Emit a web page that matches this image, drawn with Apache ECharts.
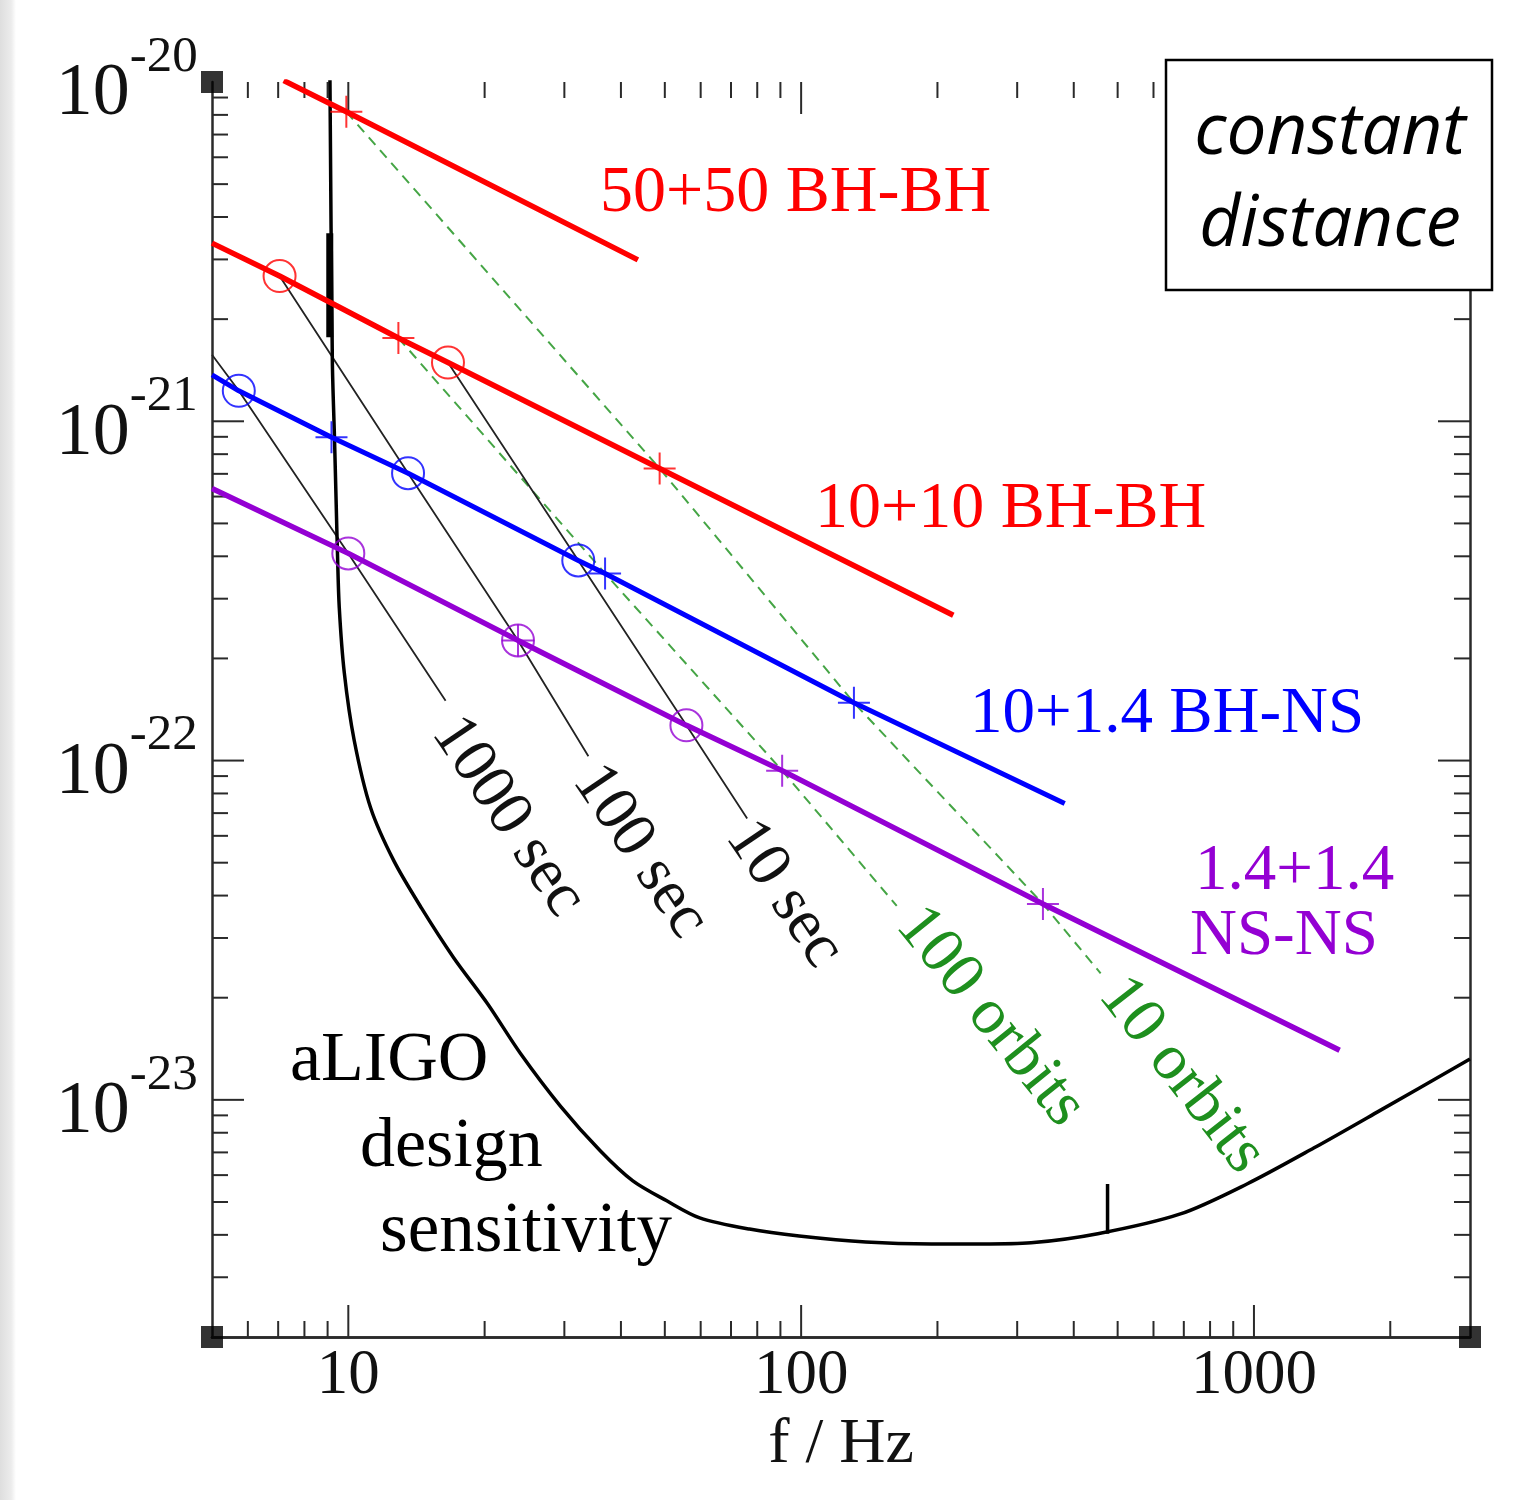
<!DOCTYPE html>
<html><head><meta charset="utf-8">
<script src="https://cdn.jsdelivr.net/npm/echarts@6.0.0/dist/echarts.min.js"></script>
<style>
html,body{margin:0;padding:0;width:1523px;height:1500px;overflow:hidden;background:#fff;}
#strip{position:absolute;left:0;top:0;width:16px;height:1500px;background:linear-gradient(to right,#dedede,#ececec 70%,#fff);}
#chart{position:absolute;left:0;top:0;width:1523px;height:1500px;}
</style></head><body><div id="strip"></div><div id="chart"></div>
<script>
// ---------- axis ranges & ticks ----------
const X_MIN = 5, X_MAX = 3000, Y_MIN = 2e-24, Y_MAX = 1e-20;
const xMajorTicks = [10,100,1000];
const yMajorTicks = [1e-23,1e-22,1e-21];
const xMinorTicks = [6,7,8,9,20,30,40,50,60,70,80,90,200,300,400,500,600,700,800,900,2000];
const yMinorTicks = [3e-24,4e-24,5e-24,6e-24,7e-24,8e-24,9e-24,
  2e-23,3e-23,4e-23,5e-23,6e-23,7e-23,8e-23,9e-23,
  2e-22,3e-22,4e-22,5e-22,6e-22,7e-22,8e-22,9e-22,
  2e-21,3e-21,4e-21,5e-21,6e-21,7e-21,8e-21,9e-21];
const frameCorners = [[5,1e-20],[5,2e-24],[3000,2e-24]];

// ---------- binary tracks (f [Hz], strain) ----------
const bbh50 = [[7.2,1.01e-20],[9.9,8.17e-21],[43.6,2.99e-21]];
const bbh10 = [[5,3.35e-21],[7.05,2.68e-21],[12.9,1.76e-21],[16.6,1.49e-21],[48.7,7.26e-22],[216.8,2.68e-22]];
const bhns  = [[5,1.37e-21],[5.73,1.23e-21],[9.18,8.97e-22],[13.55,7.03e-22],[32.2,3.89e-22],[36.9,3.56e-22],[130.8,1.48e-22],[382,7.47e-23]];
const nsns  = [[5,6.34e-22],[10,4.08e-22],[23.7,2.26e-22],[55.8,1.27e-22],[90.8,9.34e-23],[342,3.78e-23],[1546,1.40e-23]];

// ---------- markers ----------
const redCircles    = [[7.05,2.68e-21],[16.6,1.49e-21]];
const redPluses     = [[9.9,8.17e-21],[12.9,1.76e-21],[48.7,7.26e-22]];
const blueCircles   = [[5.73,1.23e-21],[13.55,7.03e-22],[32.2,3.89e-22]];
const bluePluses    = [[9.18,8.97e-22],[36.9,3.56e-22],[130.8,1.48e-22]];
const purpleCircles = [[10,4.08e-22],[23.7,2.26e-22],[55.8,1.27e-22]];
const purplePluses  = [[23.7,2.26e-22],[90.8,9.34e-23],[342,3.78e-23]];

// ---------- time-to-merger lines ----------
const sec1000 = [[5,1.57e-21],[5.73,1.23e-21],[10,4.08e-22],[16.4,1.50e-22]];
const sec100  = [[7.05,2.68e-21],[13.55,7.03e-22],[23.7,2.26e-22],[33.9,1.03e-22]];
const sec10   = [[16.6,1.49e-21],[32.2,3.89e-22],[55.8,1.27e-22],[76.0,6.75e-23]];

// ---------- orbits-remaining lines ----------
const orbits10  = [[9.9,8.17e-21],[48.7,7.26e-22],[130.8,1.48e-22],[342,3.78e-23],[458.6,2.36e-23]];
const orbits100 = [[12.9,1.76e-21],[36.9,3.56e-22],[90.8,9.34e-23],[162.6,3.73e-23]];

// ---------- aLIGO design sensitivity ----------
const aligo = [[9.10,1.2e-20],[9.22,1.51e-21],[9.32,8.97e-22],[9.41,5.46e-22],[9.46,4.16e-22],[9.55,2.83e-22],
  [9.80,1.81e-22],[10.3,1.15e-22],[11.2,7.26e-23],[12.6,5.07e-23],[14.5,3.68e-23],[17.1,2.62e-23],
  [20.3,1.92e-23],[24.0,1.37e-23],[29.4,9.59e-24],[36.0,7.08e-24],[42.5,5.77e-24],[50.5,5.04e-24],
  [59.7,4.49e-24],[76.9,4.16e-24],[99,3.97e-24],[139,3.81e-24],[194,3.76e-24],[250,3.76e-24],
  [322,3.79e-24],[452,4.03e-24],[688,4.61e-24],[965,5.65e-24],[1355,7.21e-24],[1892,9.28e-24],[3000,1.32e-23]];
const aligoBarLow  = [[9.1,3.58e-21],[9.1,1.77e-21]];
const aligoBarHigh = [[475,5.65e-24],[475,4.03e-24]];

// ---------- styles ----------
const SERIF = "'Liberation Serif','Times New Roman',serif";
const RED = '#ff0000', BLUE = '#0000ff', PURPLE = '#9400d3', GREEN = '#1e8f1e', DGREEN = '#45a545';
const FRAME = '#2a2a2a';
const PLUS = 'path://M16,0L16,32M0,16L32,16';

function isPow10(v){ const e = Math.log10(v); return Math.abs(e - Math.round(e)) < 1e-6; }

function lineSeries(data, color, width, extra){
  return Object.assign({type:'line', data:data, symbol:'none', showSymbol:false, silent:true,
    animation:false, lineStyle:{color:color, width:width}, z:3}, extra||{});
}
function markerSeries(data, symbol, color){
  return {type:'scatter', data:data, symbol:symbol, symbolSize:32, silent:true, animation:false, z:5,
    itemStyle:{color:'rgba(0,0,0,0)', borderColor:color, borderWidth:2}};
}
function xTickSeries(values, len){
  return {type:'custom', silent:true, animation:false, clip:false, z:1,
    data:values.map(v => [v, Y_MIN]),
    renderItem:(p, api) => {
      const v = api.value(0);
      const b = api.coord([v, Y_MIN]), t = api.coord([v, Y_MAX]);
      const st = {stroke:FRAME, lineWidth:2};
      return {type:'group', children:[
        {type:'line', shape:{x1:b[0], y1:b[1], x2:b[0], y2:b[1]-len}, style:st},
        {type:'line', shape:{x1:t[0], y1:t[1], x2:t[0], y2:t[1]+len}, style:st}
      ]};
    }};
}
function yTickSeries(values, len){
  return {type:'custom', silent:true, animation:false, clip:false, z:1,
    data:values.map(v => [X_MIN, v]),
    renderItem:(p, api) => {
      const v = api.value(1);
      const l = api.coord([X_MIN, v]), r = api.coord([X_MAX, v]);
      const st = {stroke:FRAME, lineWidth:2};
      return {type:'group', children:[
        {type:'line', shape:{x1:l[0], y1:l[1], x2:l[0]+len, y2:l[1]}, style:st},
        {type:'line', shape:{x1:r[0], y1:r[1], x2:r[0]-len, y2:r[1]}, style:st}
      ]};
    }};
}

const annotations = [
  {t:'50+50 BH-BH', x:600, y:194, c:RED, s:66},
  {t:'10+10 BH-BH', x:815, y:510, c:RED, s:66},
  {t:'10+1.4 BH-NS', x:970, y:715, c:BLUE, s:65},
  {t:'1.4+1.4', x:1195, y:872, c:PURPLE, s:65},
  {t:'NS-NS', x:1190, y:937, c:PURPLE, s:65},
  {t:'aLIGO', x:290, y:1062, c:'#000', s:70},
  {t:'design', x:360, y:1148, c:'#000', s:70},
  {t:'sensitivity', x:380, y:1232, c:'#000', s:71},
  {t:'1000 sec', x:445, y:723, c:'#111', s:64, r:-56},
  {t:'100 sec', x:586, y:771, c:'#111', s:64, r:-56},
  {t:'10 sec', x:739, y:827, c:'#111', s:64, r:-56},
  {t:'100 orbits', x:908, y:915, c:GREEN, s:65, r:-51},
  {t:'10 orbits', x:1111, y:985, c:GREEN, s:65, r:-52}
];

const graphics = annotations.map(a => ({
  type:'text', x:a.x, y:a.y, rotation:(a.r||0)*Math.PI/180, z:50, silent:true,
  style:{text:a.t, fill:a.c, font:a.s+'px '+SERIF, align:'left', verticalAlign:'middle'}
}));
graphics.push({type:'rect', z:100, shape:{x:1166, y:60, width:326, height:230},
  style:{fill:'#fff', stroke:'#000', lineWidth:2.5}});
graphics.push({type:'text', z:101, x:1330, y:134, style:{text:'constant', fill:'#000',
  font:"italic 71px 'Open Sans', sans-serif", align:'center', verticalAlign:'middle'}});
graphics.push({type:'text', z:101, x:1330, y:226, style:{text:'distance', fill:'#000',
  font:"italic 71px 'Open Sans', sans-serif", align:'center', verticalAlign:'middle'}});

const chart = echarts.init(document.getElementById('chart'), null, {renderer:'canvas'});

const axisLineStyle = {show:true, lineStyle:{color:FRAME, width:2.5}};
const noTick = {show:false};

const option = {
  animation:false,
  backgroundColor:'transparent',
  grid:{left:212, right:53, top:82, bottom:163, containLabel:false, outerBoundsMode:'none'},
  xAxis:[
    {type:'log', logBase:10, min:X_MIN, max:X_MAX, position:'bottom',
     axisLine:axisLineStyle, axisTick:noTick, splitLine:{show:false}, minorTick:{show:false},
     axisLabel:{margin:8, fontFamily:SERIF, fontSize:63, color:'#111',
       formatter:v => isPow10(v) ? String(Math.round(v)) : ''},
     name:'f / Hz', nameLocation:'middle', nameGap:71,
     nameTextStyle:{fontFamily:SERIF, fontSize:64, color:'#111'}},
    {type:'log', logBase:10, min:X_MIN, max:X_MAX, position:'top',
     axisLine:axisLineStyle, axisTick:noTick, axisLabel:{show:false}, splitLine:{show:false}}
  ],
  yAxis:[
    {type:'log', logBase:10, min:Y_MIN, max:Y_MAX, position:'left',
     axisLine:axisLineStyle, axisTick:noTick, splitLine:{show:false},
     axisLabel:{margin:14, color:'#111',
       formatter:v => isPow10(v) ? '{b|10}{s|' + Math.round(Math.log10(v)) + '}{h| }' : '',
       rich:{
         b:{fontFamily:SERIF, fontSize:74, lineHeight:74, verticalAlign:'bottom', color:'#111'},
         s:{fontFamily:SERIF, fontSize:51, lineHeight:50, verticalAlign:'top', color:'#111'},
         h:{fontSize:1, lineHeight:100}
       }}},
    {type:'log', logBase:10, min:Y_MIN, max:Y_MAX, position:'right',
     axisLine:axisLineStyle, axisTick:noTick, axisLabel:{show:false}, splitLine:{show:false}}
  ],
  graphic:graphics,
  series:[
    xTickSeries(xMinorTicks, 16),
    xTickSeries(xMajorTicks, 32),
    yTickSeries(yMinorTicks, 16),
    yTickSeries(yMajorTicks, 32),
    lineSeries(orbits10, DGREEN, 2, {lineStyle:{color:DGREEN, width:2, type:[10,7]}, z:2}),
    lineSeries(orbits100, DGREEN, 2, {lineStyle:{color:DGREEN, width:2, type:[10,7]}, z:2}),
    lineSeries(sec1000, '#222', 1.8, {z:2}),
    lineSeries(sec100, '#222', 1.8, {z:2}),
    lineSeries(sec10, '#222', 1.8, {z:2}),
    lineSeries(aligo, '#000', 3.5, {smooth:0.3}),
    lineSeries(aligoBarLow, '#000', 7),
    lineSeries(aligoBarHigh, '#000', 3.5),
    lineSeries(bbh50, RED, 5.5),
    lineSeries(bbh10, RED, 5.5),
    lineSeries(bhns, BLUE, 5),
    lineSeries(nsns, PURPLE, 5.5),
    markerSeries(redCircles, 'circle', RED),
    markerSeries(redPluses, PLUS, RED),
    markerSeries(blueCircles, 'circle', BLUE),
    markerSeries(bluePluses, PLUS, BLUE),
    markerSeries(purpleCircles, 'circle', PURPLE),
    markerSeries(purplePluses, PLUS, PURPLE),
    {type:'scatter', data:frameCorners, symbol:'rect', symbolSize:22, clip:false, silent:true,
     animation:false, z:10, itemStyle:{color:'#000'}}
  ]
};
chart.setOption(option);
</script></body></html>
